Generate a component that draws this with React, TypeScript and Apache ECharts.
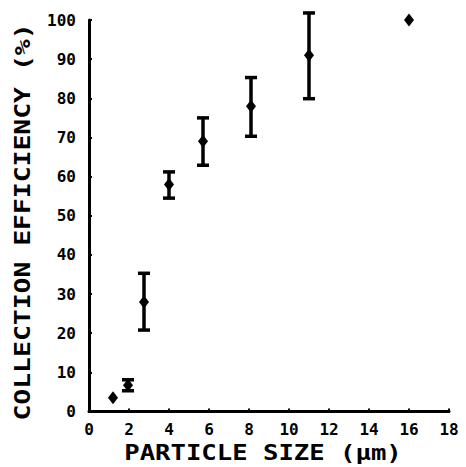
import React, { useEffect, useRef } from "react";
import * as echarts from "echarts";

const particleSize = [1.2, 1.95, 2.75, 4.0, 5.7, 8.1, 11.0, 16.0];
const efficiency = [3.5, 6.7, 28, 58, 69, 78, 91, 100];
const errLow: (number | null)[] = [null, 5.3, 20.8, 54.5, 62.9, 70.3, 79.9, null];
const errHigh: (number | null)[] = [null, 8.1, 35.3, 61.2, 75.0, 85.3, 101.8, null];

const xTitle = "PARTICLE SIZE (μm)";
const yTitle = "COLLECTION EFFICIENCY (%)";

const FONT = "'DejaVu Sans Mono', monospace";

export default function App() {
  const ref = useRef<HTMLDivElement>(null);
  useEffect(() => {
    if (!ref.current) return;
    const chart = echarts.init(ref.current, undefined, { renderer: "svg" });
    const points = particleSize.map((x, i) => [x, efficiency[i]]);
    const bars = particleSize
      .map((x, i) => [x, errLow[i], errHigh[i]])
      .filter((d) => d[1] != null && d[2] != null);
    chart.setOption({
      animation: false,
      backgroundColor: "#fff",
      grid: { left: 89, right: 17, top: 20, bottom: 55.5, containLabel: false },
      xAxis: {
        type: "value",
        min: 0,
        max: 18,
        interval: 2,
        splitLine: { show: false },
        axisLine: { onZero: false, lineStyle: { color: "#000", width: 3 } },
        axisTick: { inside: true, length: 3, lineStyle: { color: "#000", width: 2 } },
        axisLabel: {
          color: "#000",
          fontFamily: FONT,
          fontWeight: "bold",
          fontSize: 16,
          margin: 10,
        },
      },
      yAxis: {
        type: "value",
        min: 0,
        max: 100,
        interval: 10,
        splitLine: { show: false },
        axisLine: { onZero: false, lineStyle: { color: "#000", width: 3 } },
        axisTick: { inside: true, length: 3, lineStyle: { color: "#000", width: 2 } },
        axisLabel: {
          color: "#000",
          fontFamily: FONT,
          fontWeight: "bold",
          fontSize: 16,
          margin: 13,
        },
      },
      graphic: [
        {
          type: "text",
          x: 263,
          y: 453,
          scaleX: 1.22,
          style: {
            text: xTitle,
            font: `bold 21px ${FONT}`,
            fill: "#000",
            textAlign: "center",
            textVerticalAlign: "middle",
          },
        },
        {
          type: "text",
          x: 22,
          y: 222,
          rotation: Math.PI / 2,
          scaleX: 1.2,
          style: {
            text: yTitle,
            font: `bold 22px ${FONT}`,
            fill: "#000",
            textAlign: "center",
            textVerticalAlign: "middle",
          },
        },
      ],
      series: [
        {
          type: "custom",
          clip: false,
          data: bars,
          renderItem: (params: any, api: any) => {
            const x = api.value(0);
            const lo = api.coord([x, api.value(1)]);
            const hi = api.coord([x, api.value(2)]);
            const hw = 6;
            const style = { stroke: "#000", lineWidth: 3.5 };
            return {
              type: "group",
              children: [
                { type: "line", shape: { x1: lo[0], y1: lo[1], x2: hi[0], y2: hi[1] }, style },
                { type: "line", shape: { x1: lo[0] - hw, y1: lo[1], x2: lo[0] + hw, y2: lo[1] }, style },
                { type: "line", shape: { x1: hi[0] - hw, y1: hi[1], x2: hi[0] + hw, y2: hi[1] }, style },
              ],
            };
          },
          z: 2,
        },
        {
          type: "scatter",
          data: points,
          symbol: "diamond",
          symbolSize: [10, 13],
          itemStyle: { color: "#000", opacity: 1 },
          z: 3,
        },
      ],
    });
    return () => chart.dispose();
  }, []);
  return <div ref={ref} style={{ width: 466, height: 467, position: "absolute", left: 0, top: 0 }} />;
}
